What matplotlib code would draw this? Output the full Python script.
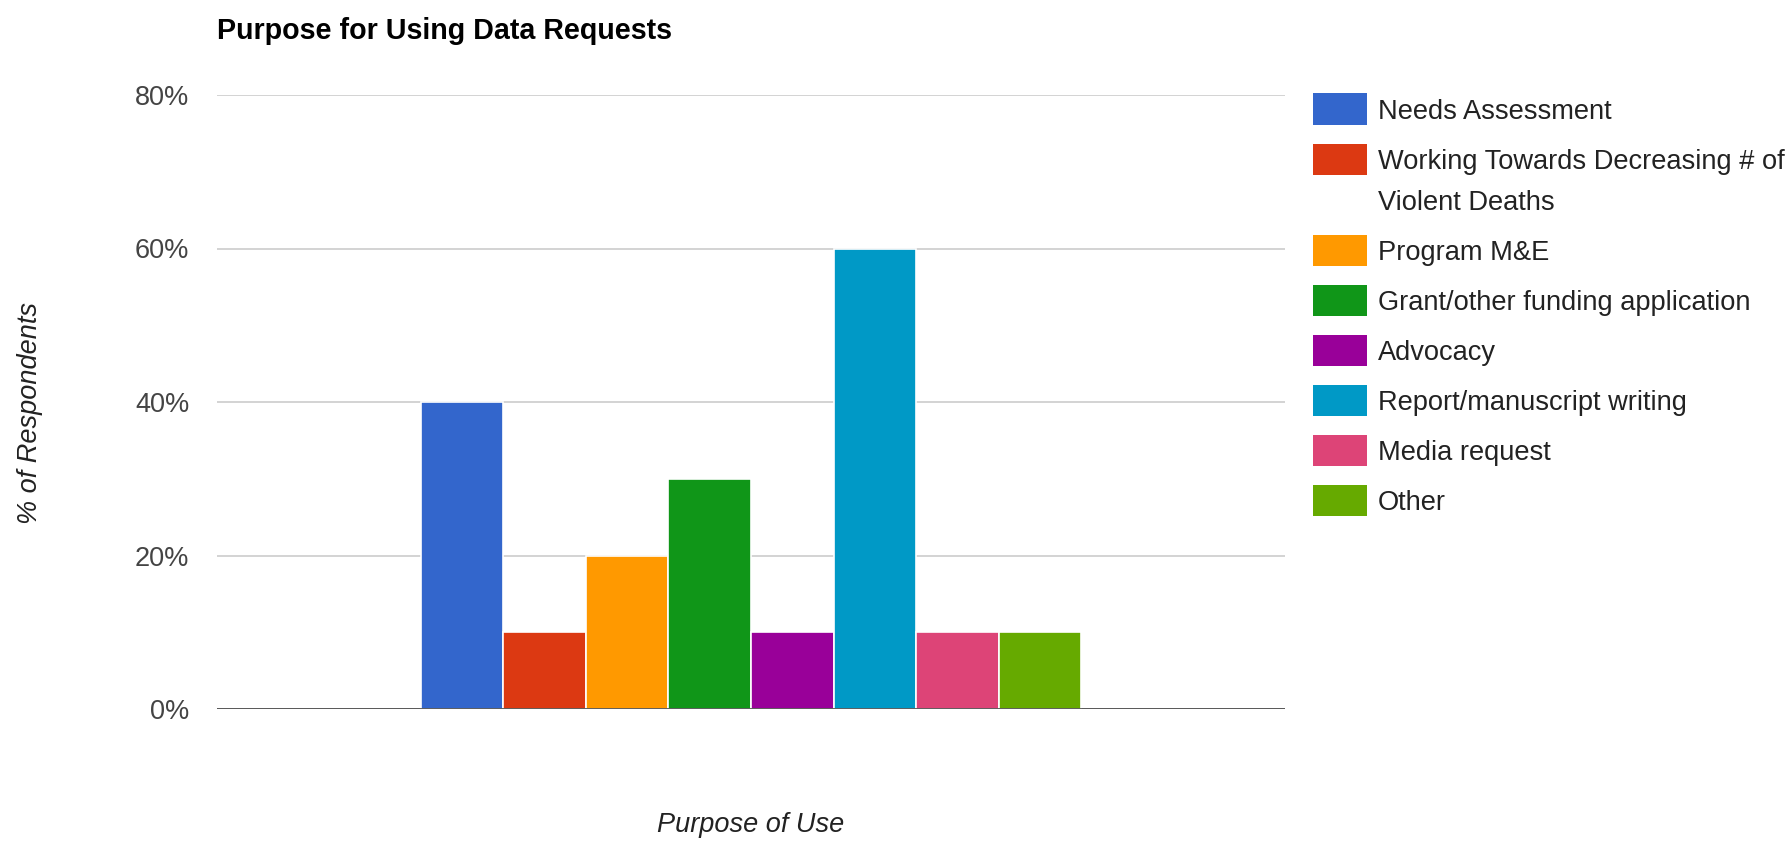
import matplotlib.pyplot as plt
from matplotlib.patches import Rectangle
from matplotlib.ticker import PercentFormatter

plt.rcParams['font.family'] = ['Liberation Sans', 'DejaVu Sans']

# Survey data
categorias = ["Needs Assessment",
              "Working Towards Decreasing # of\nViolent Deaths",
              "Program M&E",
              "Grant/other funding application",
              "Advocacy",
              "Report/manuscript writing",
              "Media request",
              "Other"]
porcentajes = [0.40, 0.10, 0.20, 0.30, 0.10, 0.60, 0.10, 0.10]
colores = ["#3366cc", "#dc3912", "#ff9900", "#109618",
           "#990099", "#0099c6", "#dd4477", "#66aa00"]
ticks_y = [0, 0.2, 0.4, 0.6, 0.8]

W, H = 1791, 842
fig = plt.figure(figsize=(W / 100, H / 100), dpi=100)
ax = fig.add_axes([217 / W, 1 - 709 / H, (1285 - 217) / W, (709 - 95) / H])

# Bars in a single group, centred in the plot area
posiciones = list(range(len(porcentajes)))
ax.bar(posiciones, porcentajes, width=1.0, color=colores,
       edgecolor="white", linewidth=1.2, zorder=3)

margen = (12.945 - len(porcentajes)) / 2
ax.set_xlim(-0.5 - margen, len(porcentajes) - 0.5 + margen)
ax.set_ylim(0, 0.8)
ax.set_yticks(ticks_y)
ax.yaxis.set_major_formatter(PercentFormatter(1.0, decimals=0))
ax.set_xticks([])
ax.tick_params(axis="y", length=0, pad=20, labelsize=19.5, labelcolor="#444444")
for s in ax.spines.values():
    s.set_visible(False)
ax.grid(axis="y", color="#cccccc", linewidth=1.2, zorder=0)
ax.axhline(0, color="#333333", linewidth=1.8, zorder=4)

# Titles
fig.text(217 / W, 1 - 31 / H, "Purpose for Using Data Requests",
         fontsize=20.6, fontweight="bold", color="black", va="center", ha="left")
fig.text(30 / W, 1 - 413 / H, "% of Respondents", fontsize=19.5, style="italic",
         color="#222222", rotation=90, va="center", ha="center")
fig.text(751 / W, 1 - 825 / H, "Purpose of Use", fontsize=19.5, style="italic",
         color="#222222", va="center", ha="center")

# Legend drawn by hand
y = 109
for etiqueta, color in zip(categorias, colores):
    fig.add_artist(Rectangle((1313 / W, 1 - (y + 15.5) / H), 54 / W, 31 / H,
                             transform=fig.transFigure, facecolor=color,
                             edgecolor="none"))
    lineas = etiqueta.split("\n")
    for k, linea in enumerate(lineas):
        fig.text(1378 / W, 1 - (y + 41 * k + 10) / H, linea, fontsize=19.6,
                 color="#222222", va="baseline", ha="left")
    y += 50 + 41 * (len(lineas) - 1)

fig.savefig("out.png", dpi=100)
